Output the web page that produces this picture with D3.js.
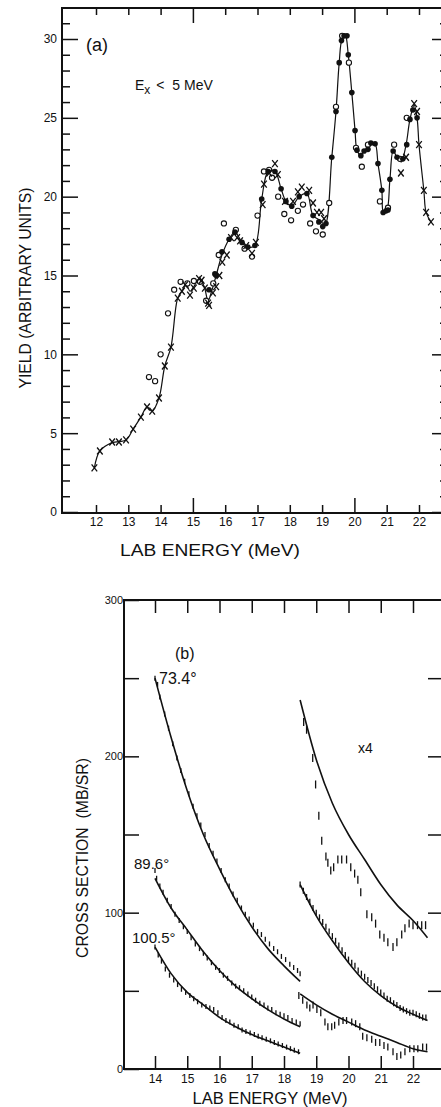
<!DOCTYPE html>
<html>
<head>
<meta charset="utf-8">
<script src="https://cdnjs.cloudflare.com/ajax/libs/d3/7.8.5/d3.min.js"></script>
<style>
  body { margin: 0; background: #fff; }
  svg { display: block; }
  text { font-family: "Liberation Sans", Arial, sans-serif; fill: #111; }
</style>
</head>
<body>
<div id="chart"></div>
<script>

// panel (a) data ==================== [lab energy MeV, yield]

var fitA = [[11.95,2.8],[12.12,3.87],[12.5,4.4],[12.93,4.57],[13.15,5.26],[13.39,6.02],[13.58,6.66],[13.74,6.4],
  [13.95,7.23],[14.13,9.26],[14.32,10.46],[14.53,13.57],[14.66,14.0],[14.8,14.4],[14.91,14.0],[15.03,14.3],
  [15.2,14.8],[15.35,14.3],[15.47,13.4],[15.58,14.0],[15.72,15.0],[15.9,16.3],[16.12,17.3],[16.3,17.75],
  [16.52,17.1],[16.7,16.8],[16.92,16.9],[17.13,19.85],[17.33,21.6],[17.54,21.6],[17.73,20.5],[17.88,19.7],
  [18.06,19.4],[18.29,20.0],[18.53,20.2],[18.72,18.8],[18.94,18.5],[19.09,18.2],[19.3,22.5],[19.43,25.4],
  [19.53,28.5],[19.62,30.0],[19.72,30.2],[19.81,29.0],[19.92,26.6],[20.02,24.2],[20.08,22.95],[20.2,22.6],
  [20.3,22.9],[20.42,23.0],[20.51,23.4],[20.64,23.35],[20.73,22.1],[20.85,20.4],[20.9,19.0],[21.0,19.1],
  [21.1,21.1],[21.2,22.9],[21.32,22.5],[21.45,22.2],[21.6,23.3],[21.72,24.9],[21.85,25.8],[21.94,25.0],
  [22.0,23.3],[22.15,20.4],[22.22,19.0],[22.37,18.4]];

var crossA = [[11.95,2.8],[12.12,3.87],[12.5,4.44],[12.71,4.44],[12.93,4.57],[13.15,5.26],[13.39,6.02],
  [13.58,6.66],[13.74,6.4],[13.95,7.23],[14.13,9.26],[14.32,10.46],[14.53,13.57],[14.66,14.0],[14.76,14.4],
  [14.91,13.76],[15.03,14.2],[15.19,14.8],[15.27,14.7],[15.37,14.2],[15.47,13.25],[15.5,13.1],[15.62,13.9],
  [15.72,14.3],[15.82,15.0],[15.91,15.85],[16.05,16.3],[16.18,17.4],[16.37,17.4],[16.46,17.2],[16.65,16.9],
  [16.83,16.4],[16.95,17.1],[17.16,19.5],[17.2,20.8],[17.36,21.5],[17.54,22.1],[17.63,21.4],[17.85,19.7],
  [18.1,19.7],[18.25,20.3],[18.37,20.6],[18.6,20.4],[18.72,19.6],[18.84,19.0],[18.97,19.0],[19.06,18.6],
  [21.44,21.5],[21.6,22.5],[21.85,25.9],[21.94,25.4],[22.0,23.3],[22.15,20.4],[22.22,19.0],[22.37,18.4]];

var openA = [[13.64,8.56],[13.83,8.3],[14.0,10.0],[14.23,12.6],[14.42,14.1],[14.62,14.6],[14.83,14.5],
  [15.03,14.65],[15.22,14.6],[15.41,13.4],[15.63,14.5],[15.8,16.3],[15.96,18.3],[16.33,17.9],[16.6,16.7],
  [16.83,16.2],[17.0,18.8],[17.2,21.6],[17.36,21.7],[17.45,21.2],[17.64,20.0],[17.83,18.9],[18.04,18.5],
  [18.25,19.1],[18.41,19.5],[18.63,18.3],[18.81,17.8],[19.02,17.6],[19.22,19.6],[19.43,25.7],[19.62,30.2],
  [19.83,28.5],[20.05,23.1],[20.23,21.9],[20.42,23.3],[20.79,19.7],[21.04,19.3],[21.23,23.3],[21.41,22.4],
  [21.62,25.0]];

var fullA = [[15.5,14.1],[15.68,15.1],[15.72,15.0],[15.9,16.5],[16.12,17.3],[16.3,17.75],[16.52,17.1],
  [16.7,16.8],[16.92,16.9],[17.13,19.85],[17.33,21.6],[17.54,21.6],[17.73,20.5],[17.88,19.7],[18.06,19.4],
  [18.29,20.0],[18.53,20.2],[18.72,18.8],[18.9,18.4],[19.02,18.1],[19.12,18.3],[19.3,22.5],[19.43,25.4],
  [19.53,28.5],[19.6,29.9],[19.68,30.2],[19.77,30.2],[19.81,29.0],[19.92,26.6],[20.02,24.2],[20.08,22.95],
  [20.2,22.6],[20.3,22.9],[20.42,23.0],[20.51,23.4],[20.64,23.35],[20.73,22.1],[20.85,20.4],[20.89,19.0],
  [20.98,19.1],[21.04,19.15],[21.1,21.1],[21.2,22.9],[21.32,22.5],[21.5,22.4],[21.62,23.3],[21.72,24.9],
  [21.81,25.5],[21.94,25.0]];

var xTicksA = [12,13,14,15,16,17,18,19,20,21,22];
var yTicksA = [0,5,10,15,20,25,30];

// panel (b) data ==================== [lab energy MeV, mb/sr]

var theory734 = [[14.0,250],[14.5,212],[15.0,178],[15.5,150],[16.0,128],[16.5,108],[17.0,91],[17.5,77],[18.0,66],[18.5,56]];
var theory896 = [[14.0,122],[14.5,103],[15.0,89],[15.5,75],[16.0,63],[16.5,53],[17.0,45],[17.5,38],[18.0,32],[18.5,27]];
var theory1005 = [[14.0,78],[14.5,61],[15.0,49],[15.5,41],[16.0,33],[16.5,27],[17.0,22],[17.5,18],[18.0,14],[18.5,10]];
var theoryX4a = [[18.5,236],[19.0,198],[19.5,170],[20.0,150],[20.5,134],[21.0,118],[21.5,105],[22.0,95],[22.45,84]];
var theoryX4b = [[18.5,118],[19.0,98],[19.5,82],[20.0,68],[20.5,56],[21.0,47],[21.5,40],[22.0,35],[22.45,31]];
var theoryX4c = [[18.5,48],[19.0,41],[19.5,35],[20.0,30],[20.5,25],[21.0,21],[21.5,17],[22.0,13],[22.45,11]];

var data734 = [[14.0,250],[14.08,246],[14.15,238],[14.3,227],[14.42,218],[14.55,208],[14.68,199],[14.8,191],
  [14.92,184],[15.05,176],[15.18,168],[15.3,162],[15.42,156],[15.55,150],[15.68,143],[15.8,138],[15.92,133],
  [16.05,127],[16.18,121],[16.3,117],[16.42,112],[16.55,108],[16.68,103],[16.8,99],[16.92,96],[17.05,92],
  [17.18,88],[17.3,86],[17.42,83],[17.55,80],[17.68,77],[17.8,75],[17.92,72],[18.05,70],[18.18,67],[18.3,65],
  [18.42,63],[18.5,61]];

var data896 = [[14.0,127],[14.05,122],[14.15,117],[14.25,113],[14.38,108],[14.5,104],[14.62,99],[14.75,95],
  [14.88,91],[15.0,88],[15.12,84],[15.25,80],[15.38,77],[15.5,74],[15.62,71],[15.75,68],[15.88,65],[16.0,63],
  [16.12,60],[16.25,58],[16.38,55],[16.5,53],[16.62,52],[16.75,50],[16.88,48],[17.0,46],[17.12,44],[17.25,42],
  [17.38,41],[17.5,39],[17.62,38],[17.75,36],[17.88,35],[18.0,34],[18.12,33],[18.25,31],[18.38,30],[18.5,29]];

var data1005 = [[14.0,78],[14.1,73],[14.2,69],[14.32,64],[14.45,60],[14.58,57],[14.7,54],[14.82,51],[14.95,49],
  [15.08,47],[15.2,45],[15.32,43],[15.45,41],[15.58,40],[15.7,39],[15.82,38],[15.95,36],[16.08,33],[16.2,31],
  [16.32,30],[16.45,28],[16.58,27],[16.7,25],[16.82,24],[16.95,23],[17.08,22],[17.2,21],[17.32,20],[17.45,19],
  [17.58,18],[17.7,17],[17.82,16],[17.95,15],[18.08,14],[18.2,13],[18.32,12],[18.45,11]];

var dataX4a = [[18.61,222],[18.7,217],[18.89,199],[18.98,182],[19.08,162],[19.17,146],[19.3,136],[19.36,132],
  [19.45,127],[19.54,129],[19.67,134],[19.79,134],[19.94,134],[20.07,129],[20.19,125],[20.29,121],[20.38,113],
  [20.57,99],[20.72,97],[20.84,93],[20.97,86],[21.1,84],[21.22,81],[21.38,78],[21.5,81],[21.65,86],[21.75,90],
  [21.88,93],[22.0,92],[22.14,92],[22.27,92],[22.39,92]];

var dataX4b = [[18.5,118],[18.6,114],[18.7,110],[18.8,107],[18.9,103],[19.0,100],[19.1,97],[19.2,94],[19.3,91],
  [19.4,88],[19.5,85],[19.6,82],[19.7,79],[19.8,76],[19.9,73],[20.0,70],[20.1,68],[20.2,66],[20.3,63],[20.4,61],
  [20.5,59],[20.6,57],[20.7,55],[20.8,53],[20.9,51],[21.0,49],[21.1,47],[21.2,45],[21.3,44],[21.4,42],[21.5,41],
  [21.6,39],[21.7,38],[21.8,37],[21.9,36],[22.0,36],[22.1,35],[22.2,34],[22.3,33],[22.4,33]];

var dataX4c = [[18.46,47],[18.58,44],[18.71,41],[18.8,39],[18.9,41],[19.02,38],[19.14,36],[19.27,30],[19.36,27],
  [19.48,27],[19.57,28],[19.7,30],[19.83,31],[19.94,31],[20.1,30],[20.22,29],[20.35,27],[20.44,21],[20.57,20],
  [20.72,19],[20.84,17],[20.97,17],[21.1,15],[21.22,14],[21.38,11],[21.5,8],[21.62,9],[21.75,11],[21.9,13],
  [22.03,13],[22.15,13],[22.3,14],[22.42,14]];

var xTicksB = [14,15,16,17,18,19,20,21,22];
var yTicksB = [0,100,200,300];

// drawing ====================

var ink = '#111';

var svg = d3.select('#chart')
  .append('svg')
  .attr('width', 441)
  .attr('height', 1107);

// small helper to drop axis domain path + style ticks
var styleAxis = function(g, size) {
  g.select('.domain').remove();
  g.attr('color', ink).attr('font-size', size).attr('font-family', null);
  g.selectAll('line').attr('stroke-width', 1.5);
};

// ---------- panel (a) ----------

var xA = d3.scaleLinear().domain([12, 22]).range([96, 419]);
var yA = d3.scaleLinear().domain([0, 30]).range([512, 39]);
var boxA = { left: 62, right: 444, top: 8, bottom: 513 };

var minorY = d3.range(1, 32).filter(function(d) { return d % 5 != 0; });

svg.append('g').attr('transform', 'translate(' + boxA.left + ',0)')
  .call(d3.axisLeft(yA).tickValues(yTicksA).tickSize(-16).tickPadding(5))
  .call(styleAxis, 12);
svg.append('g').attr('transform', 'translate(' + boxA.left + ',0)')
  .call(d3.axisLeft(yA).tickValues(minorY).tickSize(-8).tickFormat(''))
  .call(styleAxis, 12);
svg.append('g').attr('transform', 'translate(' + boxA.right + ',0)')
  .call(d3.axisRight(yA).tickValues(yTicksA).tickSize(-12).tickFormat(''))
  .call(styleAxis, 12);
svg.append('g').attr('transform', 'translate(' + boxA.right + ',0)')
  .call(d3.axisRight(yA).tickValues(minorY).tickSize(-4).tickFormat(''))
  .call(styleAxis, 12);

var majorX = function(d) { return d == 15 || d == 20; };

svg.append('g').attr('transform', 'translate(0,' + boxA.bottom + ')')
  .call(d3.axisBottom(xA).tickValues(xTicksA.filter(function(d) { return !majorX(d); })).tickSize(-8).tickPadding(4).tickFormat(d3.format('d')))
  .call(styleAxis, 12);
svg.append('g').attr('transform', 'translate(0,' + boxA.bottom + ')')
  .call(d3.axisBottom(xA).tickValues(xTicksA.filter(majorX)).tickSize(-15).tickPadding(4).tickFormat(d3.format('d')))
  .call(styleAxis, 12);
svg.append('g').attr('transform', 'translate(0,' + boxA.top + ')')
  .call(d3.axisTop(xA).tickValues(xTicksA.filter(function(d) { return !majorX(d); })).tickSize(-7).tickFormat(''))
  .call(styleAxis, 12);
svg.append('g').attr('transform', 'translate(0,' + boxA.top + ')')
  .call(d3.axisTop(xA).tickValues(xTicksA.filter(majorX)).tickSize(-15).tickFormat(''))
  .call(styleAxis, 12);

// frame
svg.append('path')
  .attr('d', 'M' + boxA.right + ',' + boxA.top + 'H' + boxA.left + 'V' + boxA.bottom + 'H' + boxA.right)
  .attr('fill', 'none')
  .attr('stroke', ink)
  .attr('stroke-width', 2);

var lineA = d3.line()
  .x(function(d) { return xA(d[0]); })
  .y(function(d) { return yA(d[1]); })
  .curve(d3.curveCatmullRom.alpha(0.5));

svg.append('path')
  .datum(fitA)
  .attr('d', lineA)
  .attr('fill', 'none')
  .attr('stroke', ink)
  .attr('stroke-width', 1.2);

svg.append('g').selectAll('circle')
  .data(openA)
  .enter().append('circle')
  .attr('cx', function(d) { return xA(d[0]); })
  .attr('cy', function(d) { return yA(d[1]); })
  .attr('r', 2.6)
  .attr('fill', '#fff')
  .attr('stroke', ink)
  .attr('stroke-width', 1.1);

svg.append('g').selectAll('circle')
  .data(fullA)
  .enter().append('circle')
  .attr('cx', function(d) { return xA(d[0]); })
  .attr('cy', function(d) { return yA(d[1]); })
  .attr('r', 2.8)
  .attr('fill', ink);

svg.append('g').selectAll('path')
  .data(crossA)
  .enter().append('path')
  .attr('transform', function(d) { return 'translate(' + xA(d[0]) + ',' + yA(d[1]) + ')'; })
  .attr('d', 'M-2.8,-3.5L2.8,3.5M2.8,-3.5L-2.8,3.5')
  .attr('stroke', ink)
  .attr('stroke-width', 1.3);

// labels (a)
svg.append('text').attr('x', 86).attr('y', 51).attr('font-size', 18).text('(a)');

var ex = svg.append('text').attr('x', 135).attr('y', 90).attr('font-size', 14);
ex.append('tspan').text('E');
ex.append('tspan').attr('dy', 4).attr('font-size', 12).text('x');
ex.append('tspan').attr('dy', -4).attr('dx', 6).text('<\u00a0\u00a05 MeV');

svg.append('text')
  .attr('x', 210).attr('y', 556)
  .attr('text-anchor', 'middle')
  .attr('font-size', 16)
  .attr('textLength', 180).attr('lengthAdjust', 'spacingAndGlyphs')
  .text('LAB ENERGY (MeV)');

svg.append('text')
  .attr('transform', 'translate(25,288) rotate(-90)')
  .attr('text-anchor', 'middle')
  .attr('dy', '0.35em')
  .attr('font-size', 17)
  .attr('textLength', 201).attr('lengthAdjust', 'spacingAndGlyphs')
  .text('YIELD (ARBITRARY UNITS)');

// ---------- panel (b) ----------

var xB = d3.scaleLinear().domain([14, 22]).range([155, 413]);
var yB = d3.scaleLinear().domain([0, 300]).range([1069, 600]);
var boxB = { left: 124, right: 443, top: 600, bottom: 1069 };

svg.append('g').attr('transform', 'translate(' + boxB.left + ',0)')
  .call(d3.axisLeft(yB).tickValues(d3.range(0, 301, 50)).tickSize(-15).tickPadding(1)
    .tickFormat(function(d) { return yTicksB.indexOf(d) >= 0 ? d : ''; }))
  .call(styleAxis, 11);
svg.append('g').attr('transform', 'translate(' + boxB.right + ',0)')
  .call(d3.axisRight(yB).tickValues(d3.range(50, 251, 50)).tickSize(-15).tickFormat(''))
  .call(styleAxis, 11);
svg.append('g').attr('transform', 'translate(0,' + boxB.bottom + ')')
  .call(d3.axisBottom(xB).tickValues(xTicksB).tickSize(-13).tickPadding(5).tickFormat(d3.format('d')))
  .call(styleAxis, 12);
svg.append('g').attr('transform', 'translate(0,' + boxB.top + ')')
  .call(d3.axisTop(xB).tickValues(xTicksB).tickSize(-13).tickFormat(''))
  .call(styleAxis, 12);

svg.append('path')
  .attr('d', 'M' + boxB.right + ',' + boxB.top + 'H' + boxB.left + 'V' + boxB.bottom + 'H' + boxB.right)
  .attr('fill', 'none')
  .attr('stroke', ink)
  .attr('stroke-width', 2);

var lineB = d3.line()
  .x(function(d) { return xB(d[0]); })
  .y(function(d) { return yB(d[1]); })
  .curve(d3.curveMonotoneX);

[theory734, theory896, theory1005, theoryX4a, theoryX4b, theoryX4c].forEach(function(t) {
  svg.append('path')
    .datum(t)
    .attr('d', lineB)
    .attr('fill', 'none')
    .attr('stroke', ink)
    .attr('stroke-width', 1.6);
});

// data points drawn as short vertical error bars
var bars = function(data, len) {
  svg.append('g').selectAll('line')
    .data(data)
    .enter().append('line')
    .attr('x1', function(d) { return xB(d[0]); })
    .attr('x2', function(d) { return xB(d[0]); })
    .attr('y1', function(d) { return yB(d[1]) - len / 2; })
    .attr('y2', function(d) { return yB(d[1]) + len / 2; })
    .attr('stroke', ink)
    .attr('stroke-width', 1.3);
};

bars(data734, 5);
bars(data896, 5);
bars(data1005, 5);
bars(dataX4a, 8);
bars(dataX4b, 6);
bars(dataX4c, 7);

// labels (b)
svg.append('text').attr('x', 175).attr('y', 659).attr('font-size', 16).text('(b)');
svg.append('text').attr('x', 159).attr('y', 684).attr('font-size', 16).text('73.4°');
svg.append('text').attr('x', 134).attr('y', 869).attr('font-size', 15).text('89.6°');
svg.append('text').attr('x', 132).attr('y', 943).attr('font-size', 15).text('100.5°');
svg.append('text').attr('x', 358).attr('y', 753).attr('font-size', 14).text('x4');

svg.append('text')
  .attr('x', 270).attr('y', 1104)
  .attr('text-anchor', 'middle')
  .attr('font-size', 16)
  .attr('textLength', 155).attr('lengthAdjust', 'spacingAndGlyphs')
  .text('LAB ENERGY (MeV)');

svg.append('text')
  .attr('transform', 'translate(82,858) rotate(-90)')
  .attr('text-anchor', 'middle')
  .attr('dy', '0.35em')
  .attr('font-size', 16)
  .attr('textLength', 200).attr('lengthAdjust', 'spacingAndGlyphs')
  .text('CROSS SECTION\u00a0\u00a0(MB/SR)');

</script>
</body>
</html>
